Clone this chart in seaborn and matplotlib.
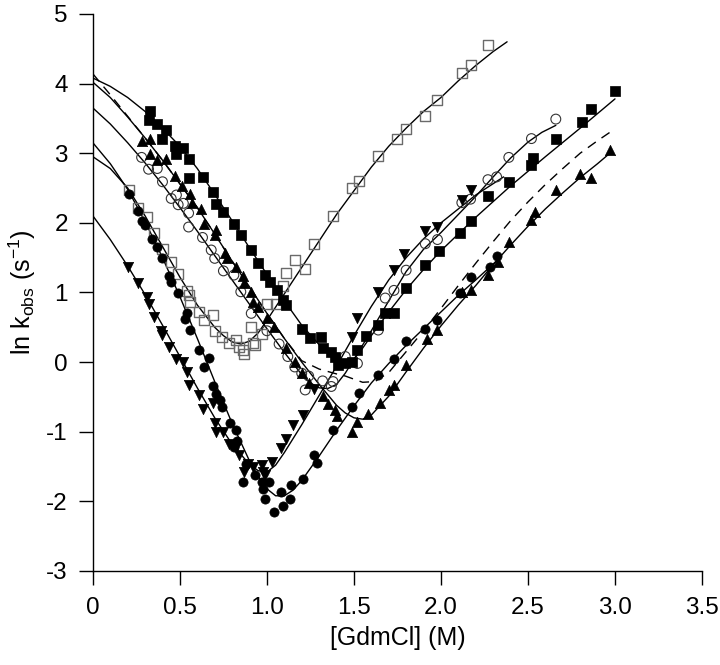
import numpy as np
import pandas as pd
import matplotlib
matplotlib.use('Agg')
import matplotlib.pyplot as plt
import seaborn as sns

# data: [GdmCl] (M) vs ln k_obs
sq_filled_x = [0.33, 0.32, 0.37, 0.42, 0.40, 0.47, 0.52, 0.48, 0.55, 0.55, 0.63, 0.69, 0.71, 0.75,
               0.81, 0.85, 0.91, 0.95, 0.99, 1.02, 1.06, 1.09, 1.11, 1.20, 1.25, 1.31, 1.32, 1.37,
               1.39, 1.41, 1.45, 1.49, 1.52, 1.57, 1.64, 1.68, 1.73, 1.80, 1.91, 1.99, 2.11, 2.17,
               2.27, 2.39, 2.52, 2.53, 2.66, 2.81, 2.86, 3.00]
sq_filled_y = [3.61, 3.47, 3.42, 3.34, 3.20, 3.10, 3.08, 2.99, 2.91, 2.65, 2.66, 2.44, 2.27, 2.16,
               1.98, 1.83, 1.61, 1.42, 1.25, 1.15, 1.03, 0.89, 0.82, 0.48, 0.34, 0.36, 0.20, 0.15,
               0.08, -0.04, -0.02, 0.00, 0.17, 0.37, 0.53, 0.70, 0.70, 1.07, 1.39, 1.60, 1.85, 2.03,
               2.39, 2.59, 2.83, 2.93, 3.20, 3.45, 3.63, 3.90]

tri_up_x = [0.28, 0.33, 0.33, 0.37, 0.42, 0.47, 0.51, 0.56, 0.57, 0.62, 0.64, 0.70, 0.71, 0.76,
            0.77, 0.82, 0.86, 0.87, 0.91, 0.92, 0.95, 1.00, 1.04, 1.11, 1.16, 1.20, 1.24, 1.32,
            1.35, 1.39, 1.40, 1.49, 1.52, 1.58, 1.65, 1.70, 1.73, 1.80, 1.92, 1.98, 2.12, 2.17,
            2.27, 2.33, 2.39, 2.52, 2.54, 2.66, 2.80, 2.86, 2.97]
tri_up_y = [3.18, 3.20, 2.99, 2.90, 2.91, 2.67, 2.53, 2.42, 2.28, 2.20, 1.99, 1.82, 1.90, 1.57,
            1.49, 1.37, 1.23, 1.13, 1.01, 0.87, 0.79, 0.63, 0.50, 0.20, 0.00, -0.16, -0.30, -0.48,
            -0.60, -0.69, -0.77, -1.00, -0.86, -0.74, -0.59, -0.40, -0.33, -0.04, 0.33, 0.46, 1.01, 1.03,
            1.25, 1.44, 1.72, 2.04, 2.16, 2.47, 2.70, 2.65, 3.05]

circ_open_x = [0.28, 0.32, 0.37, 0.40, 0.45, 0.48, 0.52, 0.49, 0.55, 0.55, 0.63, 0.68, 0.70, 0.75,
               0.81, 0.85, 0.91, 1.00, 1.07, 1.12, 1.16, 1.20, 1.22, 1.24, 1.32, 1.37, 1.38, 1.45,
               1.52, 1.64, 1.68, 1.73, 1.80, 1.91, 1.98, 2.12, 2.17, 2.27, 2.32, 2.39, 2.52, 2.66]
circ_open_y = [2.94, 2.77, 2.78, 2.59, 2.35, 2.40, 2.28, 2.26, 2.14, 1.94, 1.79, 1.61, 1.49, 1.31,
               1.25, 1.01, 0.70, 0.45, 0.26, 0.08, -0.07, -0.16, -0.40, -0.20, -0.27, -0.35, -0.28, 0.08,
               -0.02, 0.46, 0.92, 1.03, 1.32, 1.70, 1.76, 2.29, 2.34, 2.62, 2.66, 2.94, 3.21, 3.49]

circ_filled_x = [0.21, 0.26, 0.28, 0.30, 0.34, 0.37, 0.40, 0.44, 0.45, 0.49, 0.54, 0.53, 0.56, 0.61,
                 0.67, 0.64, 0.69, 0.71, 0.73, 0.74, 0.79, 0.82, 0.83, 0.81, 0.88, 0.93, 0.86, 0.97,
                 1.01, 0.98, 0.99, 1.04, 1.08, 1.09, 1.13, 1.14, 1.21, 1.27, 1.29, 1.38, 1.49, 1.53,
                 1.64, 1.73, 1.80, 1.91, 1.98, 2.11, 2.17, 2.28, 2.32]
circ_filled_y = [2.42, 2.17, 2.02, 1.97, 1.77, 1.65, 1.50, 1.23, 1.15, 0.99, 0.71, 0.62, 0.46, 0.18,
                 0.06, -0.07, -0.34, -0.46, -0.55, -0.64, -0.88, -0.98, -1.14, -1.22, -1.46, -1.62, -1.72, -1.72,
                 -1.72, -1.82, -1.96, -2.15, -1.86, -2.06, -1.96, -1.77, -1.68, -1.34, -1.45, -0.98, -0.65, -0.45,
                 -0.19, 0.04, 0.31, 0.47, 0.60, 0.99, 1.22, 1.36, 1.52]

tri_down_x = [0.20, 0.26, 0.31, 0.32, 0.35, 0.39, 0.40, 0.44, 0.48, 0.52, 0.54, 0.55, 0.61, 0.63,
              0.69, 0.70, 0.71, 0.75, 0.78, 0.82, 0.84, 0.89, 0.87, 0.92, 0.97, 0.98, 0.99, 1.03,
              1.08, 1.11, 1.15, 1.21, 1.27, 1.49, 1.52, 1.64, 1.73, 1.79, 1.91, 1.98, 2.12, 2.17]
tri_down_y = [1.37, 1.13, 0.94, 0.84, 0.65, 0.44, 0.39, 0.22, 0.05, 0.00, -0.14, -0.33, -0.47, -0.67,
              -0.59, -0.88, -1.00, -1.00, -1.17, -1.22, -1.34, -1.46, -1.58, -1.50, -1.48, -1.58, -1.62, -1.43,
              -1.24, -1.10, -0.91, -0.76, -0.38, 0.36, 0.63, 1.00, 1.32, 1.55, 1.88, 1.94, 2.33, 2.47]

sq_open_x = [0.21, 0.26, 0.31, 0.35, 0.40, 0.45, 0.49, 0.54, 0.55, 0.56, 0.61, 0.69, 0.64, 0.70,
             0.74, 0.78, 0.82, 0.84, 0.86, 0.87, 0.92, 0.91, 0.93, 0.97, 1.00, 1.05, 1.09, 1.11,
             1.16, 1.22, 1.27, 1.38, 1.49, 1.53, 1.64, 1.75, 1.80, 1.91, 1.98, 2.12, 2.17, 2.27]
sq_open_y = [2.47, 2.21, 2.08, 1.85, 1.63, 1.44, 1.27, 1.02, 0.96, 0.87, 0.72, 0.68, 0.60, 0.44,
             0.36, 0.27, 0.32, 0.22, 0.17, 0.12, 0.27, 0.51, 0.24, 0.41, 0.84, 0.84, 1.09, 1.28,
             1.46, 1.33, 1.70, 2.10, 2.50, 2.60, 2.96, 3.21, 3.35, 3.53, 3.76, 4.15, 4.27, 4.55]

# fitted curves, traced point by point
fit_sq_filled_x = [0, 0.1, 0.2, 0.3, 0.4, 0.5, 0.6, 0.7, 0.8, 0.9, 1.0, 1.1, 1.2, 1.3, 1.35, 1.4,
                   1.45, 1.5, 1.55, 1.6, 1.7, 1.8, 1.9, 2.0, 2.2, 2.4, 2.6, 2.8, 3.0]
fit_sq_filled_y = [4.08, 3.96, 3.80, 3.60, 3.36, 3.10, 2.78, 2.41, 2.03, 1.64, 1.26, 0.88, 0.53, 0.25, 0.13, 0.04,
                   0.00, 0.04, 0.20, 0.38, 0.72, 1.04, 1.33, 1.60, 2.08, 2.53, 2.95, 3.36, 3.78]

fit_tri_up_x = [0, 0.1, 0.2, 0.3, 0.4, 0.5, 0.6, 0.7, 0.8, 0.9, 1.0, 1.1, 1.2, 1.3, 1.4, 1.45, 1.5,
                1.55, 1.6, 1.7, 1.8, 1.9, 2.0, 2.1, 2.2, 2.3, 2.4, 2.5, 2.6, 2.7, 2.8, 2.9, 2.98]
fit_tri_up_y = [4.02, 3.80, 3.52, 3.22, 2.90, 2.56, 2.22, 1.84, 1.45, 1.08, 0.70, 0.34, 0.00, -0.32, -0.62, -0.73, -0.80,
                -0.82, -0.76, -0.49, -0.14, 0.20, 0.52, 0.82, 1.10, 1.40, 1.68, 1.95, 2.20, 2.43, 2.65, 2.85, 3.02]

# dashed curve: starts just above the triangle fit, runs on it, then leaves near 1.2 M
fit_dash_x = [0, 0.1, 0.2, 0.3, 0.4, 0.5, 0.6, 0.7, 0.8, 0.9, 1.0, 1.1, 1.2, 1.3, 1.4, 1.45,
              1.55, 1.62, 1.7, 1.8, 1.9, 2.0, 2.1, 2.2, 2.3, 2.4, 2.5, 2.6, 2.7, 2.8, 2.9, 3.0]
fit_dash_y = [4.14, 3.84, 3.53, 3.22, 2.90, 2.56, 2.22, 1.84, 1.45, 1.08, 0.70, 0.34, 0.02, -0.10, -0.17, -0.20,
              -0.29, -0.28, -0.15, 0.15, 0.45, 0.77, 1.10, 1.42, 1.73, 2.03, 2.30, 2.55, 2.78, 3.00, 3.18, 3.35]

fit_circ_open_x = [0, 0.1, 0.2, 0.3, 0.4, 0.5, 0.6, 0.7, 0.8, 0.9, 1.0, 1.1, 1.2, 1.25, 1.3, 1.35,
                   1.4, 1.45, 1.5, 1.6, 1.7, 1.8, 1.9, 2.0, 2.1, 2.2, 2.3, 2.4, 2.5, 2.58, 2.66]
fit_circ_open_y = [3.65, 3.42, 3.15, 2.86, 2.55, 2.22, 1.88, 1.53, 1.18, 0.83, 0.48, 0.14, -0.18, -0.30, -0.37, -0.38,
                   -0.32, -0.16, 0.04, 0.45, 0.88, 1.30, 1.62, 1.86, 2.12, 2.38, 2.66, 2.93, 3.16, 3.30, 3.40]

fit_circ_filled_x = [0, 0.1, 0.2, 0.3, 0.4, 0.5, 0.6, 0.7, 0.8, 0.9, 0.95, 1.0, 1.05, 1.1, 1.15, 1.2,
                     1.3, 1.4, 1.5, 1.6, 1.7, 1.8, 1.9, 2.0, 2.1, 2.2, 2.34]
fit_circ_filled_y = [3.15, 2.85, 2.48, 2.02, 1.50, 0.94, 0.34, -0.28, -0.88, -1.42, -1.64, -1.82, -1.92, -1.92, -1.84, -1.70,
                     -1.35, -0.98, -0.63, -0.30, -0.02, 0.24, 0.48, 0.72, 0.96, 1.18, 1.50]

fit_tri_down_x = [0, 0.1, 0.2, 0.3, 0.4, 0.5, 0.6, 0.7, 0.8, 0.9, 0.95, 1.0, 1.05, 1.1, 1.2, 1.3,
                  1.4, 1.5, 1.6, 1.7, 1.8, 1.9, 2.0, 2.1, 2.2, 2.36]
fit_tri_down_y = [2.10, 1.76, 1.38, 0.97, 0.53, 0.08, -0.37, -0.80, -1.18, -1.47, -1.56, -1.58, -1.48, -1.30, -0.90, -0.48,
                  -0.06, 0.38, 0.80, 1.18, 1.50, 1.77, 2.00, 2.20, 2.40, 2.66]

fit_sq_open_x = [0, 0.1, 0.2, 0.3, 0.4, 0.5, 0.6, 0.7, 0.75, 0.8, 0.85, 0.9, 0.95, 1.0, 1.1, 1.2,
                 1.3, 1.4, 1.5, 1.6, 1.7, 1.8, 1.9, 2.0, 2.1, 2.2, 2.3, 2.38]
fit_sq_open_y = [2.95, 2.78, 2.50, 2.10, 1.66, 1.22, 0.82, 0.50, 0.38, 0.29, 0.26, 0.30, 0.42, 0.60, 0.98, 1.36,
                 1.74, 2.12, 2.46, 2.80, 3.10, 3.36, 3.60, 3.80, 4.04, 4.26, 4.46, 4.60]

x_ticks = [0, 0.5, 1.0, 1.5, 2.0, 2.5, 3.0, 3.5]
x_tick_labels = ['0', '0.5', '1.0', '1.5', '2.0', '2.5', '3.0', '3.5']
y_ticks = [-3, -2, -1, 0, 1, 2, 3, 4, 5]


def create_chevron():
    sns.set_theme(style='ticks')
    plt.rcParams['font.family'] = ['Liberation Sans', 'DejaVu Sans']
    plt.rcParams['mathtext.fontset'] = 'custom'
    plt.rcParams['mathtext.rm'] = 'Liberation Sans'
    plt.rcParams['mathtext.it'] = 'Liberation Sans:italic'
    plt.rcParams['axes.unicode_minus'] = False

    fig = plt.figure(figsize=(7.2, 6.65), dpi=100)
    ax = fig.add_axes([0.129, 0.1414, 0.846, 0.8376])

    # fitted lines
    fits = [
        (fit_sq_filled_x, fit_sq_filled_y),
        (fit_tri_up_x, fit_tri_up_y),
        (fit_circ_open_x, fit_circ_open_y),
        (fit_circ_filled_x, fit_circ_filled_y),
        (fit_tri_down_x, fit_tri_down_y),
        (fit_sq_open_x, fit_sq_open_y),
    ]
    for fx, fy in fits:
        sns.lineplot(x=fx, y=fy, sort=False, estimator=None, color='black',
                     linewidth=1.0, ax=ax)
    sns.lineplot(x=fit_dash_x, y=fit_dash_y, sort=False, estimator=None, color='black',
                 linewidth=1.0, linestyle=(0, (7, 5)), ax=ax)

    # data points
    sns.scatterplot(x=sq_open_x, y=sq_open_y, marker='s', s=52, facecolor='none',
                    edgecolor='#6a6a6a', linewidth=1.0, ax=ax, zorder=3)
    sns.scatterplot(x=circ_open_x, y=circ_open_y, marker='o', s=50, facecolor='none',
                    edgecolor='#333333', linewidth=0.8, ax=ax, zorder=3)
    sns.scatterplot(x=sq_filled_x, y=sq_filled_y, marker='s', s=48, color='black',
                    edgecolor='black', linewidth=0.5, ax=ax, zorder=3)
    sns.scatterplot(x=tri_up_x, y=tri_up_y, marker='^', s=55, color='black',
                    edgecolor='black', linewidth=0.5, ax=ax, zorder=3)
    sns.scatterplot(x=circ_filled_x, y=circ_filled_y, marker='o', s=44, color='black',
                    edgecolor='black', linewidth=0.5, ax=ax, zorder=3)
    sns.scatterplot(x=tri_down_x, y=tri_down_y, marker='v', s=55, color='black',
                    edgecolor='black', linewidth=0.5, ax=ax, zorder=3)

    ax.set_xlim(0, 3.5)
    ax.set_ylim(-3, 5)
    ax.set_xticks(x_ticks)
    ax.set_xticklabels(x_tick_labels)
    ax.set_yticks(y_ticks)
    ax.set_yticklabels([str(v) for v in y_ticks])

    ax.tick_params(axis='both', direction='out', length=10, width=1.0, color='black',
                   labelsize=17.5, labelcolor='black')
    ax.tick_params(axis='x', pad=9)
    ax.tick_params(axis='y', pad=8)

    sns.despine(ax=ax)
    for side in ['left', 'bottom']:
        ax.spines[side].set_color('black')
        ax.spines[side].set_linewidth(1.0)

    ax.set_xlabel('[GdmCl] (M)', fontsize=18, color='black', labelpad=5)
    ax.set_ylabel(r'ln k$_{\mathrm{obs}}$ (s$^{\mathrm{-1}}$)', fontsize=18,
                  color='black', labelpad=6)

    fig.savefig('out.png', dpi=100, facecolor='white')


if __name__ == '__main__':
    create_chevron()
